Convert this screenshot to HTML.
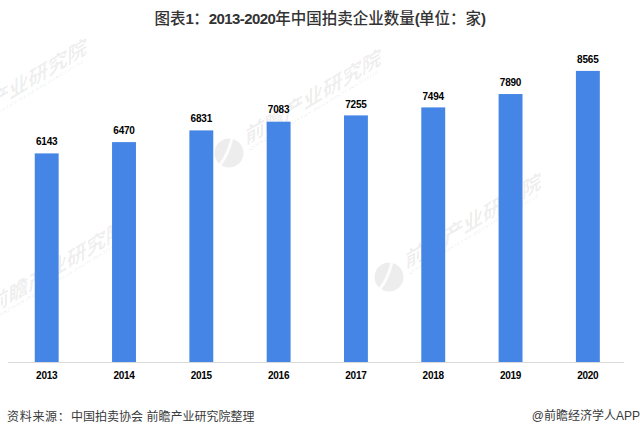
<!DOCTYPE html>
<html><head><meta charset="utf-8">
<style>
html,body{margin:0;padding:0;background:#fff;}
body{width:640px;height:435px;position:relative;overflow:hidden;font-family:"Liberation Sans","Noto Sans CJK SC",sans-serif;}
.title{position:absolute;left:0;width:640px;top:9px;text-align:center;font-size:15.5px;font-weight:500;color:#333;line-height:20px;}
.title b{font-weight:bold;letter-spacing:-0.6px;font-size:15px;}
.bar{position:absolute;width:24px;background:#4485e6;}
.val,.yr{position:absolute;width:64px;text-align:center;font-size:10px;font-weight:bold;color:#000;line-height:12px;letter-spacing:-0.2px;text-indent:-0.2px;}
.yr{font-size:10px;letter-spacing:-0.25px;top:369.5px;}
.axis{position:absolute;left:8px;width:616px;top:362px;height:1px;background:#d9d9d9;}
.src{position:absolute;left:7px;top:408.5px;font-size:12px;color:#3a3a3a;line-height:16px;white-space:nowrap;}
.app{position:absolute;right:0;top:408px;font-size:12px;color:#3a3a3a;line-height:16px;white-space:nowrap;}
.wm,.bars{position:absolute;left:0;top:0;}
</style></head><body>
<div class="title">图表<b>1</b>：<b>2013-2020</b>年中国拍卖企业数量<b>(</b>单位：家<b>)</b></div>
<svg class="wm" width="640" height="435" viewBox="0 0 640 435" font-family="Noto Sans CJK SC, sans-serif"><circle cx="-65.5" cy="142.5" r="14.5" fill="#000" fill-opacity="0.07"/>
<path transform="translate(-65.5,142.5)" d="M3,-15 C1,-6 -3,4 -9,12" stroke="#fff" stroke-width="3" fill="none" stroke-opacity="0.85"/>
<g transform="translate(-65.5,142.5) skewY(-31)">
<text x="16.5" y="2" font-size="21" font-weight="bold" textLength="136" lengthAdjust="spacingAndGlyphs" fill="#000" fill-opacity="0.08">前瞻产业研究院</text>
<text x="20" y="10" font-size="5" font-weight="bold" textLength="130" lengthAdjust="spacingAndGlyphs" fill="#000" fill-opacity="0.07" font-family="Liberation Sans">QIANZHAN INDUSTRY RESEARCH INSTITUTE</text>
</g><circle cx="229" cy="153" r="14.5" fill="#000" fill-opacity="0.07"/>
<path transform="translate(229,153)" d="M3,-15 C1,-6 -3,4 -9,12" stroke="#fff" stroke-width="3" fill="none" stroke-opacity="0.85"/>
<g transform="translate(229,153) skewY(-31)">
<text x="16.5" y="2" font-size="21" font-weight="bold" textLength="136" lengthAdjust="spacingAndGlyphs" fill="#000" fill-opacity="0.08">前瞻产业研究院</text>
<text x="20" y="10" font-size="5" font-weight="bold" textLength="130" lengthAdjust="spacingAndGlyphs" fill="#000" fill-opacity="0.07" font-family="Liberation Sans">QIANZHAN INDUSTRY RESEARCH INSTITUTE</text>
</g><circle cx="-27" cy="323" r="14.5" fill="#000" fill-opacity="0.07"/>
<path transform="translate(-27,323)" d="M3,-15 C1,-6 -3,4 -9,12" stroke="#fff" stroke-width="3" fill="none" stroke-opacity="0.85"/>
<g transform="translate(-27,323) skewY(-31)">
<text x="16.5" y="2" font-size="21" font-weight="bold" textLength="136" lengthAdjust="spacingAndGlyphs" fill="#000" fill-opacity="0.08">前瞻产业研究院</text>
<text x="20" y="10" font-size="5" font-weight="bold" textLength="130" lengthAdjust="spacingAndGlyphs" fill="#000" fill-opacity="0.07" font-family="Liberation Sans">QIANZHAN INDUSTRY RESEARCH INSTITUTE</text>
</g><circle cx="389" cy="277" r="14.5" fill="#000" fill-opacity="0.07"/>
<path transform="translate(389,277)" d="M3,-15 C1,-6 -3,4 -9,12" stroke="#fff" stroke-width="3" fill="none" stroke-opacity="0.85"/>
<g transform="translate(389,277) skewY(-31)">
<text x="16.5" y="2" font-size="21" font-weight="bold" textLength="136" lengthAdjust="spacingAndGlyphs" fill="#000" fill-opacity="0.08">前瞻产业研究院</text>
<text x="20" y="10" font-size="5" font-weight="bold" textLength="130" lengthAdjust="spacingAndGlyphs" fill="#000" fill-opacity="0.07" font-family="Liberation Sans">QIANZHAN INDUSTRY RESEARCH INSTITUTE</text>
</g></svg>
<svg class="bars" width="640" height="435" viewBox="0 0 640 435"><rect x="8" y="362" width="616" height="1" fill="#d9d9d9"/><g fill="#4485e6"><rect x="34.75" y="153.40" width="23.9" height="208.60"/><rect x="112.06" y="142.10" width="23.9" height="219.90"/><rect x="189.37" y="130.40" width="23.9" height="231.60"/><rect x="266.68" y="121.70" width="23.9" height="240.30"/><rect x="343.99" y="115.40" width="23.9" height="246.60"/><rect x="421.30" y="107.40" width="23.9" height="254.60"/><rect x="498.61" y="94.05" width="23.9" height="267.95"/><rect x="575.92" y="70.90" width="23.9" height="291.10"/></g></svg>
<div class="val" style="left:14.8px;top:136px">6143</div>
<div class="yr" style="left:14.8px">2013</div>
<div class="val" style="left:92.1px;top:125px">6470</div>
<div class="yr" style="left:92.1px">2014</div>
<div class="val" style="left:169.4px;top:113px">6831</div>
<div class="yr" style="left:169.4px">2015</div>
<div class="val" style="left:246.7px;top:104px">7083</div>
<div class="yr" style="left:246.7px">2016</div>
<div class="val" style="left:324.0px;top:99px">7255</div>
<div class="yr" style="left:324.0px">2017</div>
<div class="val" style="left:401.3px;top:91px">7494</div>
<div class="yr" style="left:401.3px">2018</div>
<div class="val" style="left:478.6px;top:77px">7890</div>
<div class="yr" style="left:478.6px">2019</div>
<div class="val" style="left:555.9px;top:54px">8565</div>
<div class="yr" style="left:555.9px">2020</div>
<div class="src"><span style="letter-spacing:0.7px">资料来源：</span><span style="margin-left:0.6px">中国拍卖协会 前瞻产业研究院整理</span></div>
<div class="app">@前瞻经济学人APP</div>
</body></html>
